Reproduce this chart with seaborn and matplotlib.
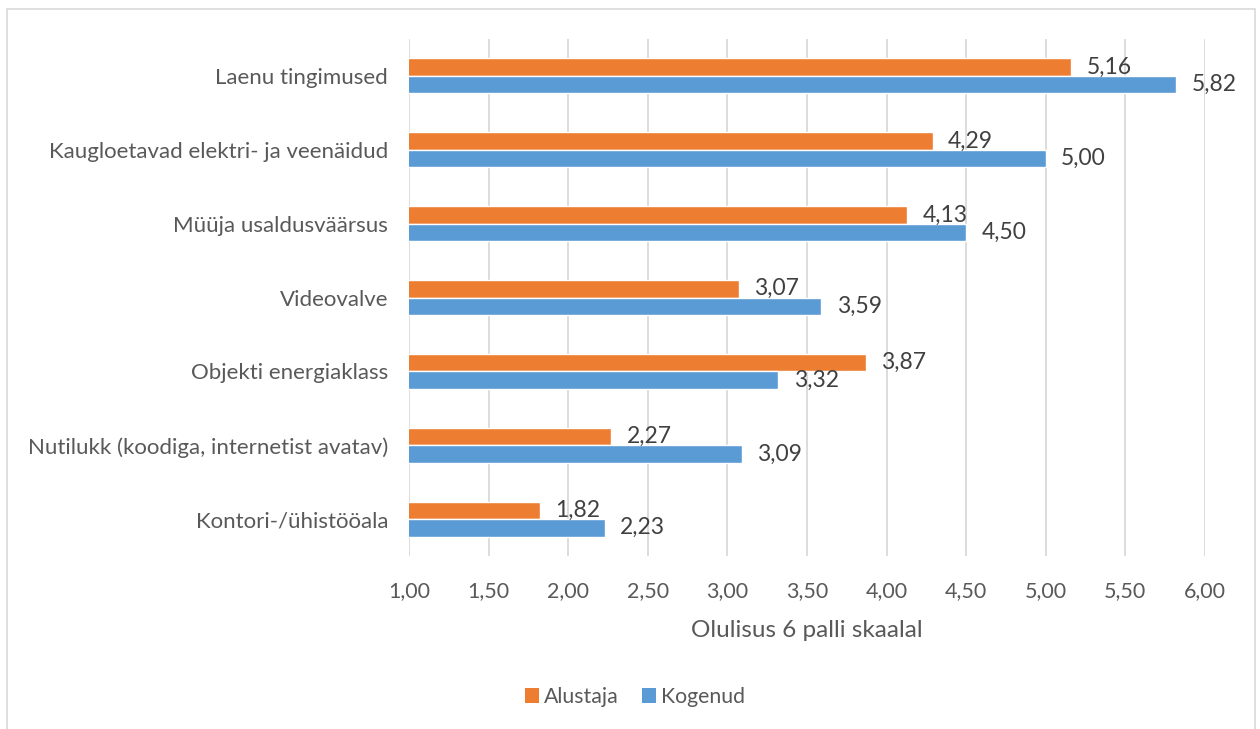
import matplotlib
matplotlib.use("Agg")
import matplotlib.pyplot as plt
import seaborn as sns
import pandas as pd
from matplotlib.patches import Rectangle, Patch

categories = [
    "Laenu tingimused",
    "Kaugloetavad elektri- ja veenäidud",
    "Müüja usaldusväärsus",
    "Videovalve",
    "Objekti energiaklass",
    "Nutilukk (koodiga, internetist avatav)",
    "Kontori-/ühistööala",
]
alustaja = [5.16, 4.29, 4.13, 3.07, 3.87, 2.27, 1.82]
kogenud = [5.82, 5.00, 4.50, 3.59, 3.32, 3.09, 2.23]
series_names = ["Alustaja", "Kogenud"]
colors = ["#ED7D31", "#5B9BD5"]
xticks = [1.0, 1.5, 2.0, 2.5, 3.0, 3.5, 4.0, 4.5, 5.0, 5.5, 6.0]

df = pd.DataFrame({
    "cat": categories * 2,
    "val": alustaja + kogenud,
    "series": [series_names[0]] * len(categories) + [series_names[1]] * len(categories),
})

sns.set_theme(style="white")
plt.rcParams["font.family"] = ["Lato", "DejaVu Sans"]

fig = plt.figure(figsize=(12.6, 7.29), dpi=100)
ax = fig.add_axes([409 / 1260, 1 - 556 / 729, (1205 - 409) / 1260, (556 - 39) / 729])

sns.barplot(data=df, x="val", y="cat", hue="series", hue_order=series_names,
            order=categories, palette=colors, orient="h", width=0.475, gap=0,
            ax=ax, legend=False, errorbar=None, saturation=1)

ax.set_xlim(1, 6)
ax.set_ylim(len(categories) - 0.5, -0.5)
ax.set_xticks(xticks)
ax.set_xticklabels([f"{t:.2f}".replace(".", ",") for t in xticks])
ax.xaxis.grid(True, color="#D9D9D9", lw=1.3)
ax.set_axisbelow(True)
for s in ax.spines.values():
    s.set_visible(False)
ax.tick_params(axis="x", length=0, labelsize=15.5, colors="#595959", pad=18)
ax.tick_params(axis="y", length=0, labelsize=16, colors="#595959", pad=15)
ax.set_ylabel("")
ax.set_xlabel("Olulisus 6 palli skaalal", fontsize=17.5, color="#595959", labelpad=14)

for cont in ax.containers:
    ax.bar_label(cont, fmt=lambda v: f"{v:.2f}".replace(".", ","), padding=11,
                 fontsize=16.5, color="#404040")

handles = [Patch(facecolor=c, edgecolor="none") for c in colors]
fig.legend(handles, series_names, loc="center", bbox_to_anchor=(635 / 1260, 1 - 697 / 729),
           ncol=2, frameon=False, fontsize=15.3, handlelength=0.66, handleheight=0.66,
           handletextpad=0.25, columnspacing=1.08, labelcolor="#595959")

fig.patches.append(Rectangle((7 / 1260, -0.05), (1255 - 7) / 1260, 1.05 - 9 / 729,
                             transform=fig.transFigure, fill=False,
                             edgecolor="#D9D9D9", lw=1.2))

fig.savefig("out.png", dpi=100)
